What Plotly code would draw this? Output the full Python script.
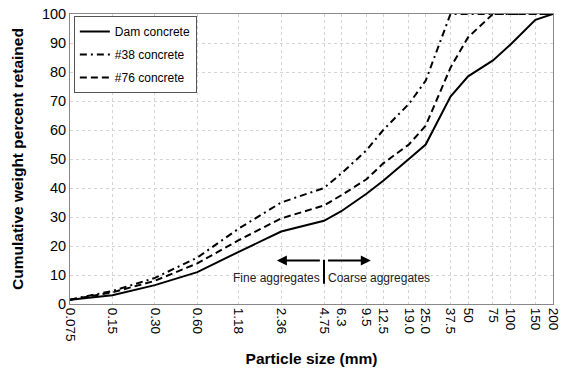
import math
import plotly.graph_objects as go

sizes = [0.075, 0.15, 0.30, 0.60, 1.18, 2.36, 4.75, 6.3, 9.5, 12.5, 19.0, 25.0, 37.5, 50, 75, 100, 150, 200]
tick_labels = ["0.075", "0.15", "0.30", "0.60", "1.18", "2.36", "4.75", "6.3", "9.5", "12.5",
               "19.0", "25.0", "37.5", "50", "75", "100", "150", "200"]

dam = [1.5, 3, 6.5, 11, 18, 25, 28.7, 32, 38, 42.5, 50, 55, 71.5, 78.5, 84, 89.5, 98, 100]
c38 = [1.5, 4.5, 9, 16, 26, 35, 40, 45, 53, 60, 69, 77, 100, 100, 100, 100, 100, 100]
c76 = [1.5, 4, 8, 14, 22, 29.5, 34, 37.5, 43, 48.5, 55, 61.5, 81.5, 92, 100, 100, 100, 100]

series_names = ["Dam concrete", "#38 concrete", "#76 concrete"]
series_vals = [dam, c38, c76]
dashes = ["solid", "7px,4px,2px,4px", "7px,4px"]

font = "Liberation Sans, Arial, sans-serif"

fig = go.Figure()
for i, (name, vals, d) in enumerate(zip(series_names, series_vals, dashes)):
    fig.add_trace(go.Scatter(
        x=sizes, y=vals, mode="lines", name=name, legendgroup=f"g{i}",
        line=dict(color="black", width=2, dash=d),
    ))

divider = 4.75
fig.add_shape(type="line", x0=divider, x1=divider, y0=7, y1=15.3, xref="x", yref="y",
              line=dict(color="black", width=2))
fig.add_annotation(x=math.log10(2.2), y=15, ax=math.log10(4.55), ay=15, xref="x", yref="y",
                   axref="x", ayref="y", showarrow=True, arrowhead=2, arrowsize=1,
                   arrowwidth=2, arrowcolor="black", text="")
fig.add_annotation(x=math.log10(10.2), y=15, ax=math.log10(4.95), ay=15, xref="x", yref="y",
                   axref="x", ayref="y", showarrow=True, arrowhead=2, arrowsize=1,
                   arrowwidth=2, arrowcolor="black", text="")
fig.add_annotation(x=math.log10(4.6), y=9, xref="x", yref="y", text="Fine aggregates",
                   showarrow=False, xanchor="right", font=dict(family=font, size=12, color="#222"))
fig.add_annotation(x=math.log10(4.9), y=9, xref="x", yref="y", text="Coarse aggregates",
                   showarrow=False, xanchor="left", font=dict(family=font, size=12, color="#222"))

fig.update_layout(
    width=565, height=376,
    margin=dict(l=70, r=12, t=14, b=72),
    paper_bgcolor="white", plot_bgcolor="white",
    font=dict(family=font, color="black"),
    showlegend=True,
    legend=dict(x=0.008, y=0.993, xanchor="left", yanchor="top",
                bgcolor="white", bordercolor="#555", borderwidth=1,
                font=dict(family=font, size=12), tracegroupgap=4),
    xaxis=dict(type="log", range=[math.log10(sizes[0]), math.log10(sizes[-1])],
               tickvals=sizes, ticktext=tick_labels, tickangle=90,
               tickfont=dict(family=font, size=13.5), ticks="", automargin=False,
               showgrid=True, gridcolor="#d4d4d4", griddash="dot", gridwidth=1,
               showline=True, linecolor="#888", linewidth=1, mirror=True,
               title=dict(text="<b>Particle size (mm)</b>", font=dict(family=font, size=15.5), standoff=12),
               zeroline=False),
    yaxis=dict(range=[0, 100], dtick=10, tickfont=dict(family=font, size=14.5), ticks="",
               automargin=False,
               showgrid=True, gridcolor="#d4d4d4", griddash="dot", gridwidth=1,
               showline=True, linecolor="#888", linewidth=1, mirror=True,
               title=dict(text="<b>Cumulative weight percent retained</b>", font=dict(family=font, size=15.5), standoff=14),
               zeroline=False),
)

fig.write_html("out.html")
